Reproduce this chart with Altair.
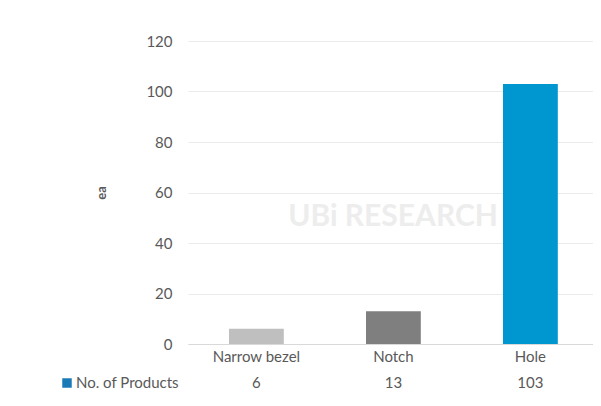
import altair as alt
import pandas as pd

categories = ["Narrow bezel", "Notch", "Hole"]
values = [6, 13, 103]
colors = ["#BFBFBF", "#7F7F7F", "#0096D0"]
series_name = "No. of Products"
legend_color = "#1a7ab5"
y_ticks = [0, 20, 40, 60, 80, 100, 120]
y_title = "ea"
watermark = "UBi RESEARCH"

df = pd.DataFrame({"cat": categories, "val": values, "color": colors})
leg = pd.DataFrame({"name": [series_name], "color": [legend_color]})
wm = pd.DataFrame({"t": [watermark]})

W, H = 405, 303
FONT = "Lato"
TXT = "#595959"

xenc = alt.X(
    "cat:N", sort=categories,
    scale=alt.Scale(paddingInner=0.6, paddingOuter=0.278, align=0.538),
    axis=alt.Axis(title=None, labelAngle=0, labelFontSize=15, labelColor=TXT,
                  labelFont=FONT, labelPadding=5, ticks=False,
                  domainColor="#d9d9d9", domainWidth=1),
)
yenc = alt.Y(
    "val:Q",
    scale=alt.Scale(domain=[0, 120], nice=False),
    axis=alt.Axis(values=y_ticks, title=y_title, titleFont=FONT, titleFontSize=13,
                  titleColor=TXT, titleFontWeight="bold", titlePadding=37,
                  labelFont=FONT, labelFontSize=15, labelColor=TXT, labelPadding=16,
                  ticks=False, domain=False, gridColor="#ebebeb"),
)

wmark = alt.Chart(wm).mark_text(
    font=FONT, fontSize=30, fontWeight="bold", color="#ededed", align="center"
).encode(x=alt.value(205), y=alt.value(176), text="t:N")

bars = alt.Chart(df).mark_bar().encode(
    x=xenc, y=yenc, color=alt.Color("color:N", scale=None)
)

vals = alt.Chart(df).mark_text(
    font=FONT, fontSize=15, color=TXT, baseline="middle"
).encode(x=alt.X("cat:N", sort=categories), y=alt.value(H + 39), text="val:Q")

sq = alt.Chart(leg).mark_square(size=90, opacity=1).encode(
    x=alt.value(-121), y=alt.value(H + 39), color=alt.Color("color:N", scale=None)
)
lt = alt.Chart(leg).mark_text(
    font=FONT, fontSize=15, color=TXT, align="left", baseline="middle"
).encode(x=alt.value(-112), y=alt.value(H + 39), text="name:N")

chart = alt.layer(wmark, bars, vals, sq, lt).properties(
    width=W, height=H,
    autosize=alt.AutoSizeParams(type="none"),
    padding={"left": 180, "top": 33, "right": 0, "bottom": 50},
).configure_view(stroke=None)

chart.save("out.html", embed_options={"renderer": "svg", "actions": False})
